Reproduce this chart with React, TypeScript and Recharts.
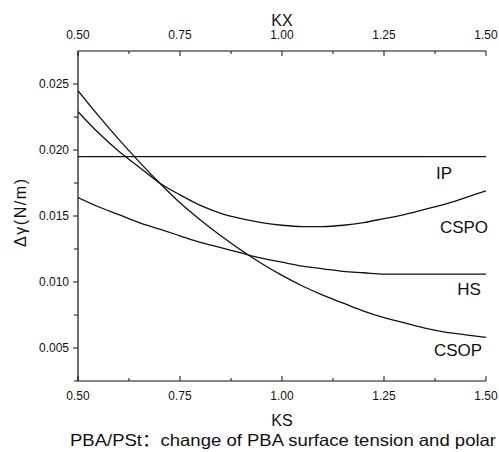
import React from 'react';
import { LineChart, Line, XAxis, YAxis, Label } from 'recharts';

const ksValues = [0.5, 0.55, 0.6, 0.65, 0.7, 0.75, 0.8, 0.85, 0.9, 0.95, 1.0, 1.05, 1.1, 1.15, 1.2, 1.25, 1.3, 1.35, 1.4, 1.45, 1.5];
const ipValues = [0.0195, 0.0195, 0.0195, 0.0195, 0.0195, 0.0195, 0.0195, 0.0195, 0.0195, 0.0195, 0.0195, 0.0195, 0.0195, 0.0195, 0.0195, 0.0195, 0.0195, 0.0195, 0.0195, 0.0195, 0.0195];
const cspoValues = [0.0229, 0.0213, 0.0199, 0.0187, 0.0175, 0.0166, 0.0158, 0.0152, 0.0148, 0.0145, 0.0143, 0.0142, 0.0142, 0.0143, 0.0145, 0.0148, 0.0151, 0.0155, 0.0159, 0.0164, 0.0169];
const hsValues = [0.0164, 0.0157, 0.0151, 0.0145, 0.014, 0.0135, 0.013, 0.0126, 0.0122, 0.0118, 0.0115, 0.0112, 0.011, 0.0108, 0.0107, 0.0106, 0.0106, 0.0106, 0.0106, 0.0106, 0.0106];
const csopValues = [0.0245, 0.0226, 0.0208, 0.0191, 0.0175, 0.016, 0.0147, 0.0135, 0.0124, 0.0114, 0.0105, 0.0097, 0.009, 0.0084, 0.0078, 0.0073, 0.0069, 0.0065, 0.0062, 0.006, 0.0058];

const xMajorTicks = [0.5, 0.75, 1.0, 1.25, 1.5];
const xMinorTicks = [0.625, 0.875, 1.125, 1.375];
const yMajorTicks = [0.005, 0.01, 0.015, 0.02, 0.025];
const yMinorTicks = [0.0025, 0.0075, 0.0125, 0.0175, 0.0225];

const seriesNames = ['IP', 'CSPO', 'HS', 'CSOP'];
const seriesValues = [ipValues, cspoValues, hsValues, csopValues];

const topTitle = 'KX';
const bottomTitle = 'KS';
const yTitle = 'Δγ(N/m)';
const caption = 'PBA/PSt：change of PBA surface tension and polar';

const data = ksValues.map((ks, i) => {
  const row: Record<string, number> = { ks };
  seriesNames.forEach((n, j) => {
    row[n] = seriesValues[j][i];
  });
  return row;
});

const FONT = '"Liberation Sans", Arial, Helvetica, "Noto Sans CJK SC", sans-serif';
const INK = '#111';

const labelOffsets: Record<string, [number, number]> = {
  IP: [-42, 22],
  CSPO: [-22, 42],
  HS: [-17, 21],
  CSOP: [-28, 19],
};

const isMajor = (v: number, majors: number[]) => majors.some((m) => Math.abs(m - v) < 1e-9);

const BottomTick = (props: any) => {
  const { x, y, payload } = props;
  const major = isMajor(payload.value, xMajorTicks);
  return (
    <g>
      <line x1={x} y1={y} x2={x} y2={y - (major ? 5 : 3)} stroke={INK} strokeWidth={1} />
      {major && (
        <text x={x} y={y + 19} textAnchor="middle" fontSize={12} fontFamily={FONT} fill={INK}>
          {payload.value.toFixed(2)}
        </text>
      )}
    </g>
  );
};

const TopTick = (props: any) => {
  const { x, y, payload } = props;
  const major = isMajor(payload.value, xMajorTicks);
  return (
    <g>
      <line x1={x} y1={y} x2={x} y2={y + (major ? 5 : 3)} stroke={INK} strokeWidth={1} />
      {major && (
        <text x={x} y={y - 12} textAnchor="middle" fontSize={12} fontFamily={FONT} fill={INK}>
          {payload.value.toFixed(2)}
        </text>
      )}
    </g>
  );
};

const LeftTick = (props: any) => {
  const { x, y, payload } = props;
  const major = isMajor(payload.value, yMajorTicks);
  return (
    <g>
      <line x1={x} y1={y} x2={x - (major ? 5 : 4)} y2={y} stroke={INK} strokeWidth={1} />
      {major && (
        <text x={x - 9} y={y + 4} textAnchor="end" fontSize={12} fontFamily={FONT} fill={INK}>
          {payload.value.toFixed(3)}
        </text>
      )}
    </g>
  );
};

const makeEndLabel = (name: string) => (props: any) => {
  const { x, y, index } = props;
  if (index !== ksValues.length - 1) return null;
  const [dx, dy] = labelOffsets[name];
  return (
    <text key={name} x={x + dx} y={y + dy} textAnchor="middle" fontSize={17} fontFamily={FONT} fill={INK}>
      {name}
    </text>
  );
};

export default function App() {
  return (
    <div style={{ position: 'absolute', left: 0, top: 0, width: 499, height: 452, background: '#fff' }}>
      <LineChart width={499} height={452} data={data} margin={{ top: 0, right: 13, bottom: 0, left: 0 }}>
        <XAxis
          xAxisId="top"
          orientation="top"
          dataKey="ks"
          type="number"
          domain={[0.5, 1.5]}
          allowDataOverflow
          ticks={[...xMajorTicks, ...xMinorTicks]}
          interval={0}
          height={51}
          tickLine={false}
          tickSize={0}
          tickMargin={0}
          tick={<TopTick />}
          axisLine={{ stroke: INK, strokeWidth: 1.2 }}
        >
          <Label
            content={(p: any) => {
              const vb = p.viewBox;
              return (
                <text x={vb.x + vb.width / 2} y={vb.y + 26} textAnchor="middle" fontSize={16} fontFamily={FONT} fill={INK}>
                  {topTitle}
                </text>
              );
            }}
          />
        </XAxis>
        <XAxis
          xAxisId="bottom"
          orientation="bottom"
          dataKey="ks"
          type="number"
          domain={[0.5, 1.5]}
          allowDataOverflow
          ticks={[...xMajorTicks, ...xMinorTicks]}
          interval={0}
          height={71}
          tickLine={false}
          tickSize={0}
          tickMargin={0}
          tick={<BottomTick />}
          axisLine={{ stroke: INK, strokeWidth: 1.2 }}
        >
          <Label
            content={(p: any) => {
              const vb = p.viewBox;
              return (
                <g>
                  <text x={vb.x + vb.width / 2} y={vb.y + 45} textAnchor="middle" fontSize={16} fontFamily={FONT} fill={INK}>
                    {bottomTitle}
                  </text>
                  <text x={70} y={vb.y + 65} textLength={426} lengthAdjust="spacingAndGlyphs" fontSize={16.5} fontFamily={FONT} fill={INK}>
                    {caption}
                  </text>
                </g>
              );
            }}
          />
        </XAxis>
        <YAxis
          yAxisId="left"
          type="number"
          domain={[0.0025, 0.0275]}
          allowDataOverflow
          ticks={[...yMajorTicks, ...yMinorTicks]}
          interval={0}
          width={78}
          tickLine={false}
          tickSize={0}
          tickMargin={0}
          tick={<LeftTick />}
          axisLine={{ stroke: INK, strokeWidth: 1.2 }}
        >
          <Label
            content={(p: any) => {
              const vb = p.viewBox;
              const cx = 20;
              const cy = vb.y + vb.height / 2 - 3;
              return (
                <text
                  x={cx}
                  y={cy}
                  textAnchor="middle"
                  dominantBaseline="central"
                  transform={`rotate(-90 ${cx} ${cy})`}
                  fontSize={16}
                  textLength={68}
                  lengthAdjust="spacing"
                  fontFamily={FONT}
                  fill={INK}
                >
                  {yTitle}
                </text>
              );
            }}
          />
        </YAxis>
        {seriesNames.map((name) => (
          <Line
            key={name}
            xAxisId="bottom"
            yAxisId="left"
            dataKey={name}
            type="monotone"
            stroke={INK}
            strokeWidth={1.3}
            dot={false}
            activeDot={false}
            isAnimationActive={false}
            label={makeEndLabel(name)}
          />
        ))}
      </LineChart>
    </div>
  );
}
